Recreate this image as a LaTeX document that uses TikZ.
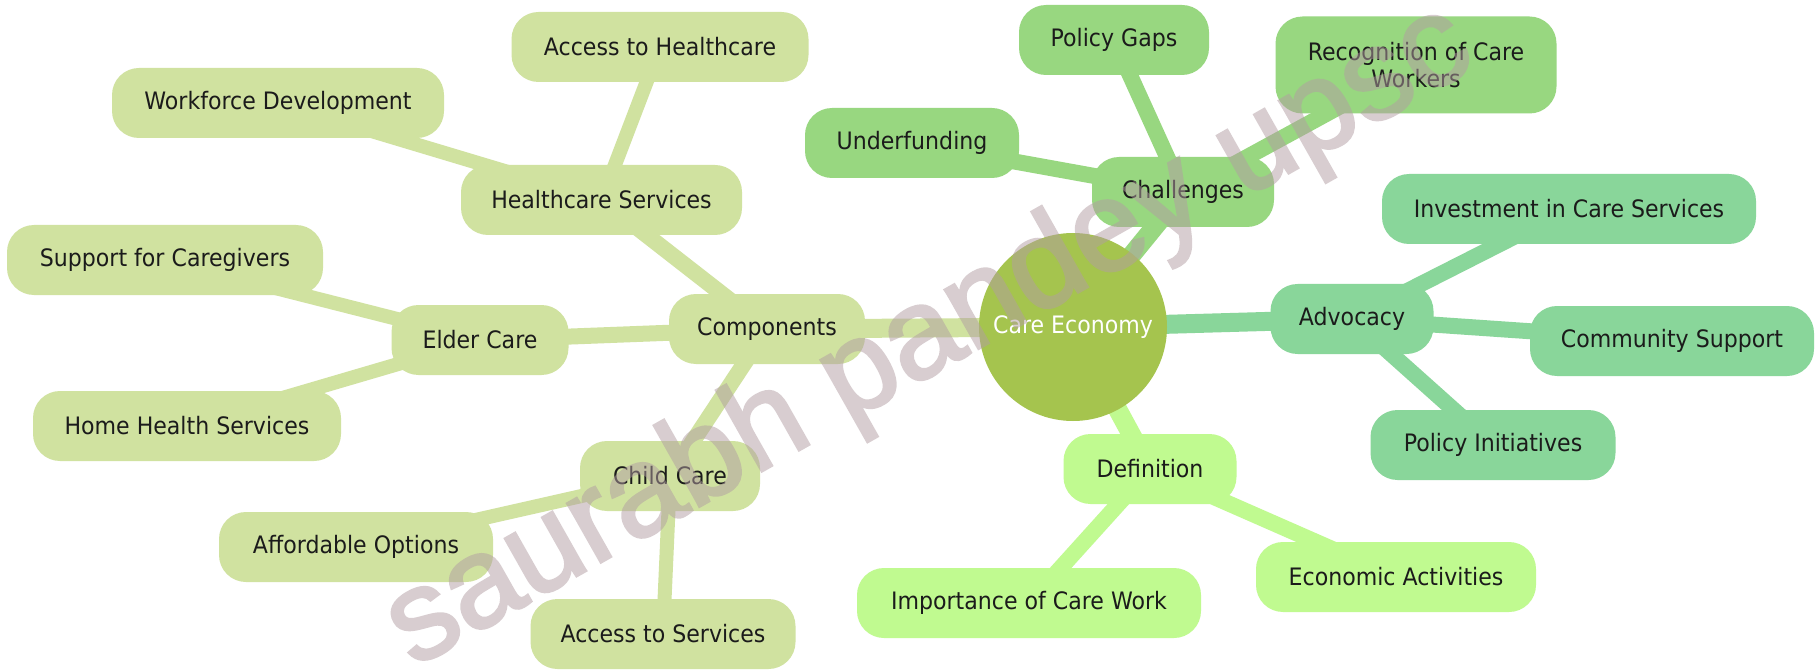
\documentclass[tikz,border=0pt]{standalone}
\usepackage{fontspec}
\setmainfont{DejaVu Sans}[FakeStretch=0.92]
\newfontfamily\wmfont{Liberation Sans}[FakeBold=2.2]
\usetikzlibrary{backgrounds}
\definecolor{cRoot}{HTML}{A5C44E}
\definecolor{cComp}{HTML}{D0E2A0}
\definecolor{cChal}{HTML}{98D780}
\definecolor{cAdv}{HTML}{89D69A}
\definecolor{cDef}{HTML}{C0FA90}
\definecolor{txt}{HTML}{1B1B1B}
\definecolor{wm}{HTML}{B29DA2}
\begin{document}
\begin{tikzpicture}[x=1pt,y=-1pt,
  box/.style={rectangle, rounded corners=27pt, inner sep=0pt, minimum height=70pt,
    text=txt, font=\fontsize{24}{27}\selectfont, align=center},
  e0/.style={line width=19pt},
  e1/.style={line width=16pt},
  e2/.style={line width=14pt}]
\useasboundingbox (0,0) rectangle (1816,671);

% root
\node[circle, fill=cRoot, minimum size=188pt, inner sep=0pt, text=white,
  font=\fontsize{24}{27}\selectfont] (root) at (1073,327) {Care Economy};

% Components branch
\node[box, fill=cComp, minimum width=196pt] (comp) at (767,329) {Components};
\node[box, fill=cComp, minimum width=281pt] (hs) at (601.5,200) {Healthcare Services};
\node[box, fill=cComp, minimum width=297pt] (ah) at (660,47) {Access to Healthcare};
\node[box, fill=cComp, minimum width=332pt] (wd) at (278,103) {Workforce Development};
\node[box, fill=cComp, minimum width=177pt] (ec) at (480,340) {Elder Care};
\node[box, fill=cComp, minimum width=316pt] (sc) at (165,260) {Support for Caregivers};
\node[box, fill=cComp, minimum width=308pt] (hh) at (187,426) {Home Health Services};
\node[box, fill=cComp, minimum width=180pt] (cc) at (670,476) {Child Care};
\node[box, fill=cComp, minimum width=274pt] (ao) at (356,547) {Affordable Options};
\node[box, fill=cComp, minimum width=265pt] (as) at (663,634) {Access to Services};

% Challenges branch
\node[box, fill=cChal, minimum width=182pt] (ch) at (1183,192) {Challenges};
\node[box, fill=cChal, minimum width=214pt] (uf) at (912,143) {Underfunding};
\node[box, fill=cChal, minimum width=190pt] (pg) at (1114,40) {Policy Gaps};
\node[box, fill=cChal, minimum width=281pt, minimum height=97pt] (rc) at (1416,65) {Recognition of Care\\Workers};

% Advocacy branch
\node[box, fill=cAdv, minimum width=163pt] (adv) at (1352,319) {Advocacy};
\node[box, fill=cAdv, minimum width=374pt] (inv) at (1569,209) {Investment in Care Services};
\node[box, fill=cAdv, minimum width=284pt] (cs) at (1672,341) {Community Support};
\node[box, fill=cAdv, minimum width=245pt] (pi) at (1493,445) {Policy Initiatives};

% Definition branch
\node[box, fill=cDef, minimum width=173pt] (def) at (1150,469) {Definition};
\node[box, fill=cDef, minimum width=344pt] (imp) at (1029,603) {Importance of Care Work};
\node[box, fill=cDef, minimum width=280pt] (eco) at (1396,577) {Economic Activities};

\begin{scope}[on background layer]
\fill[white] (0,0) rectangle (1816,671);
\draw[e0, cComp] (root.center) -- (comp.center);
\draw[e0, cChal] (root.center) -- (ch.center);
\draw[e0, cAdv] (root.center) -- (adv.center);
\draw[e0, cDef] (root.center) -- (def.center);
\draw[e1, cComp] (comp.center) -- (hs.center);
\draw[e1, cComp] (comp.center) -- (ec.center);
\draw[e1, cComp] (comp.center) -- (cc.center);
\draw[e2, cComp] (hs.center) -- (ah.center);
\draw[e2, cComp] (hs.center) -- (wd.center);
\draw[e2, cComp] (ec.center) -- (sc.center);
\draw[e2, cComp] (ec.center) -- (hh.center);
\draw[e2, cComp] (cc.center) -- (ao.center);
\draw[e2, cComp] (cc.center) -- (as.center);
\draw[e1, cChal] (ch.center) -- (uf.center);
\draw[e1, cChal] (ch.center) -- (pg.center);
\draw[e1, cChal] (ch.center) -- (rc.center);
\draw[e1, cAdv] (adv.center) -- (inv.center);
\draw[e1, cAdv] (adv.center) -- (cs.center);
\draw[e1, cAdv] (adv.center) -- (pi.center);
\draw[e1, cDef] (def.center) -- (imp.center);
\draw[e1, cDef] (def.center) -- (eco.center);
\end{scope}

% watermark
\begin{scope}[transparency group, opacity=0.5]
\node[rotate=29.5, text=wm, inner sep=0pt,
  font=\wmfont\fontsize{128}{128}\selectfont] (wmark) at (930,338) {saurabh pandey upsc};
\end{scope}
\end{tikzpicture}
\end{document}
